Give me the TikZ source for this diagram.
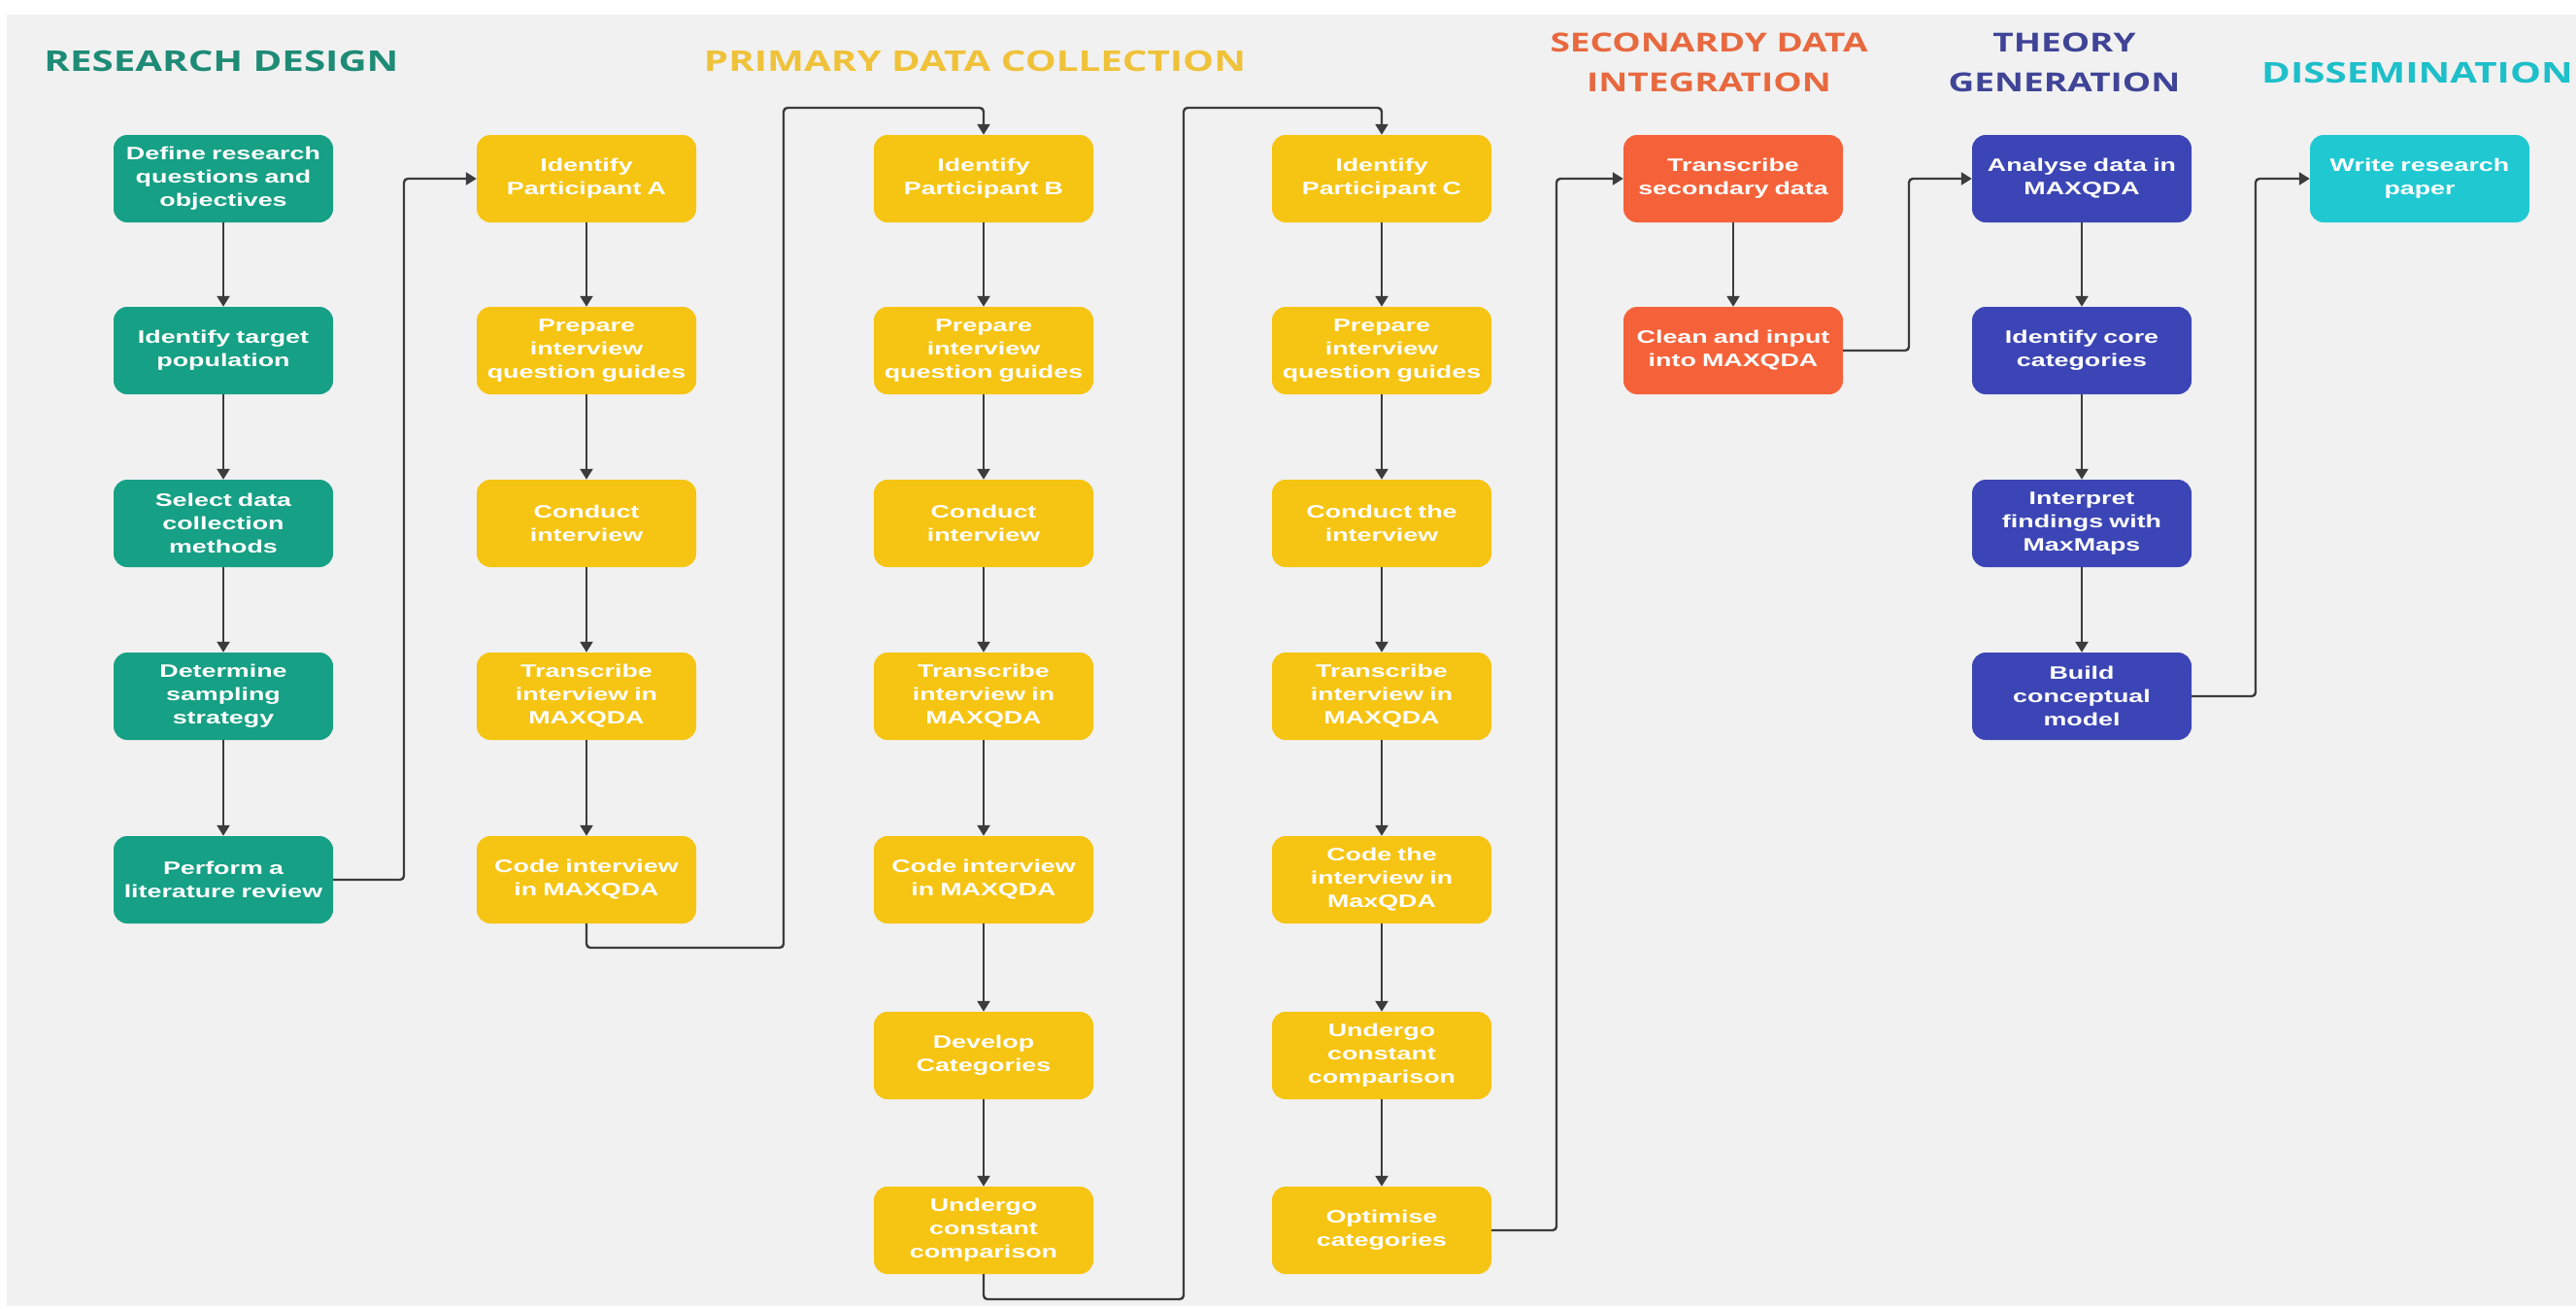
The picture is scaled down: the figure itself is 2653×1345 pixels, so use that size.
\documentclass[tikz,border=0pt]{standalone}
\usepackage{fontspec}
\usetikzlibrary{arrows.meta}
\newfontfamily\boxfont{Liberation Sans}[FakeStretch=1.45]
\newfontfamily\ttlfont{Open Sans}[FakeStretch=1.37]
\definecolor{bgc}{HTML}{F1F1F1}
\definecolor{teal1}{HTML}{16A085}
\definecolor{tealT}{HTML}{1E8B76}
\definecolor{yel1}{HTML}{F6C412}
\definecolor{yelT}{HTML}{EFC23A}
\definecolor{ora1}{HTML}{F5623A}
\definecolor{oraT}{HTML}{E8693F}
\definecolor{blu1}{HTML}{3C45B5}
\definecolor{bluT}{HTML}{3F4497}
\definecolor{cya1}{HTML}{20C9D2}
\definecolor{cyaT}{HTML}{1DBFC9}
\definecolor{linec}{HTML}{3C3C3C}
\tikzset{
  box/.style={rectangle, rounded corners=14pt, minimum width=226pt, minimum height=90pt,
    text width=222pt, align=center, inner sep=0pt, text=white,
    font=\boxfont\bfseries\fontsize{18.5}{24}\selectfont},
  tealbox/.style={box, fill=teal1},
  yelbox/.style={box, fill=yel1},
  orabox/.style={box, fill=ora1},
  blubox/.style={box, fill=blu1},
  cyabox/.style={box, fill=cya1},
  ttl/.style={align=center, inner sep=0pt, font=\ttlfont\bfseries\fontsize{29.4}{41}\selectfont},
  ttltwo/.style={ttl, font=\ttlfont\bfseries\fontsize{27}{41}\selectfont},
  conn/.style={draw=linec, line width=2.4pt, rounded corners=4pt,
    -{Triangle[length=11pt,width=13pt]}},
}
\begin{document}
\begin{tikzpicture}[x=1pt,y=-1pt]
\useasboundingbox (0,0) rectangle (2653,1345);
\fill[white] (0,0) rectangle (2653,1345);
\fill[bgc] (7,15) rectangle (2653,1345);

% titles
\node[ttl, text=tealT] (h1) at (228,63) {RESEARCH DESIGN};
\node[ttl, text=yelT] (h2) at (1004,63) {PRIMARY DATA COLLECTION};
\node[ttltwo, text=oraT] (h3) at (1760,64) {SECONARDY DATA\\INTEGRATION};
\node[ttltwo, text=bluT] (h4) at (2126,64) {THEORY\\GENERATION};
\node[ttl, text=cyaT, anchor=west] (h5) at (2329,75) {DISSEMINATION};

% research design
\node[tealbox] (t1) at (230,184) {Define research\\questions and\\objectives};
\node[tealbox] (t2) at (230,361) {Identify target\\population};
\node[tealbox] (t3) at (230,539) {Select data\\collection\\methods};
\node[tealbox] (t4) at (230,717) {Determine\\sampling\\strategy};
\node[tealbox] (t5) at (230,906) {Perform a\\literature review};

% participant A
\node[yelbox] (a1) at (604,184) {Identify\\Participant A};
\node[yelbox] (a2) at (604,361) {Prepare\\interview\\question guides};
\node[yelbox] (a3) at (604,539) {Conduct\\interview};
\node[yelbox] (a4) at (604,717) {Transcribe\\interview in\\MAXQDA};
\node[yelbox] (a5) at (604,906) {Code interview\\in MAXQDA};

% participant B
\node[yelbox] (b1) at (1013,184) {Identify\\Participant B};
\node[yelbox] (b2) at (1013,361) {Prepare\\interview\\question guides};
\node[yelbox] (b3) at (1013,539) {Conduct\\interview};
\node[yelbox] (b4) at (1013,717) {Transcribe\\interview in\\MAXQDA};
\node[yelbox] (b5) at (1013,906) {Code interview\\in MAXQDA};
\node[yelbox] (b6) at (1013,1087) {Develop\\Categories};
\node[yelbox] (b7) at (1013,1267) {Undergo\\constant\\comparison};

% participant C
\node[yelbox] (c1) at (1423,184) {Identify\\Participant C};
\node[yelbox] (c2) at (1423,361) {Prepare\\interview\\question guides};
\node[yelbox] (c3) at (1423,539) {Conduct the\\interview};
\node[yelbox] (c4) at (1423,717) {Transcribe\\interview in\\MAXQDA};
\node[yelbox] (c5) at (1423,906) {Code the\\interview in\\MaxQDA};
\node[yelbox] (c6) at (1423,1087) {Undergo\\constant\\comparison};
\node[yelbox] (c7) at (1423,1267) {Optimise\\categories};

% secondary
\node[orabox] (o1) at (1785,184) {Transcribe\\secondary data};
\node[orabox] (o2) at (1785,361) {Clean and input\\into MAXQDA};

% theory
\node[blubox] (g1) at (2144,184) {Analyse data in\\MAXQDA};
\node[blubox] (g2) at (2144,361) {Identify core\\categories};
\node[blubox] (g3) at (2144,539) {Interpret\\findings with\\MaxMaps};
\node[blubox] (g4) at (2144,717) {Build\\conceptual\\model};

% dissemination
\node[cyabox] (d1) at (2492,184) {Write research\\paper};

% routing coordinates
\coordinate (r1) at (416,0);
\coordinate (ab1) at (807,976);
\coordinate (ab2) at (807,111);
\coordinate (bc1) at (1219,1338);
\coordinate (bc2) at (1219,111);
\coordinate (r2) at (1603,0);
\coordinate (r3) at (1966,0);
\coordinate (r4) at (2323,0);

% vertical chains
\foreach \p/\q in {t1/t2,t2/t3,t3/t4,t4/t5,
  a1/a2,a2/a3,a3/a4,a4/a5,
  b1/b2,b2/b3,b3/b4,b4/b5,b5/b6,b6/b7,
  c1/c2,c2/c3,c3/c4,c4/c5,c5/c6,c6/c7,
  o1/o2,g1/g2,g2/g3,g3/g4}
  \draw[conn] (\p.south) -- (\q.north);

% cross connectors
\draw[conn] (t5.east) -- (t5.east -| r1) |- (a1.west);
\draw[conn] (a5.south) |- (ab1) -- (ab2) -| (b1.north);
\draw[conn] (b7.south) |- (bc1) -- (bc2) -| (c1.north);
\draw[conn] (c7.east) -- (c7.east -| r2) |- (o1.west);
\draw[conn] (o2.east) -- (o2.east -| r3) |- (g1.west);
\draw[conn] (g4.east) -- (g4.east -| r4) |- (d1.west);
\end{tikzpicture}
\end{document}
